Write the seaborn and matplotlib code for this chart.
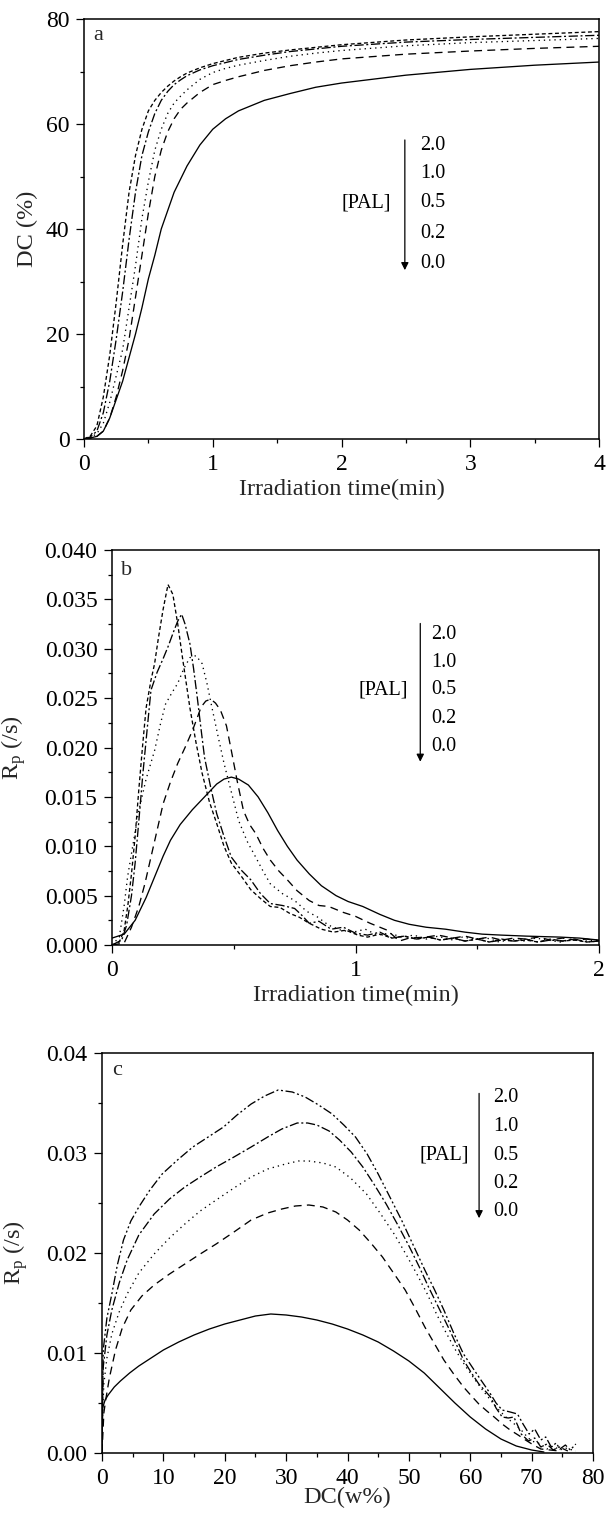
import numpy as np
import matplotlib
matplotlib.use("Agg")
import matplotlib.pyplot as plt
import seaborn as sns
from matplotlib.ticker import MultipleLocator, FormatStrFormatter

# ---------------- data ----------------
pal_levels = ["2.0", "1.0", "0.5", "0.2", "0.0"]

# Panel a: DC (%) vs irradiation time (min)
a_time = [0, 0.05, 0.1, 0.15, 0.2, 0.25, 0.3, 0.35, 0.4, 0.45, 0.5, 0.55, 0.6, 0.65, 0.7,
          0.75, 0.8, 0.9, 1.0, 1.1, 1.2, 1.4, 1.6, 1.8, 2.0, 2.5, 3.0, 3.5, 4.0]
a_dc_00 = [0, 0.2, 0.5, 1.5, 4, 7.5, 11, 15.5, 20, 25, 30.5, 35, 40, 43.5, 47,
           49.5, 52, 56, 59, 61, 62.5, 64.5, 65.8, 67, 67.8, 69.3, 70.4, 71.2, 71.8]
a_dc_02 = [0, 0.2, 0.5, 1.5, 4, 8, 13, 19, 27, 35, 43, 50, 55, 58.5, 61,
           62.8, 64, 66, 67.5, 68.3, 69.0, 70.2, 71.1, 71.8, 72.4, 73.3, 73.9, 74.4, 74.8]
a_dc_05 = [0, 0.3, 1, 3, 7, 12, 17, 25, 33, 42, 49, 55, 59, 62, 64,
           65.3, 66.5, 68.5, 69.8, 70.6, 71.2, 72.1, 72.9, 73.5, 74.0, 74.9, 75.5, 75.9, 76.3]
a_dc_10 = [0, 0.4, 1.5, 5, 11, 19, 28, 38, 47, 54, 58.5, 62, 64.5, 66.2, 67.5,
           68.4, 69.2, 70.3, 71.1, 71.7, 72.3, 73.1, 73.8, 74.3, 74.8, 75.6, 76.1, 76.5, 76.9]
a_dc_20 = [0, 0.6, 2.5, 8, 16, 26, 37, 47, 54, 59, 62.5, 64.5, 66, 67.2, 68.2,
           69.0, 69.7, 70.7, 71.5, 72.1, 72.7, 73.5, 74.1, 74.6, 75.1, 76.0, 76.6, 77.1, 77.6]

# Panel b: Rp (/s) vs irradiation time (min), pairs (t, Rp)
b_00 = np.array([(0, 0.0007), (0.05, 0.0011), (0.095, 0.0025), (0.14, 0.0048), (0.175, 0.0069),
                 (0.21, 0.0090), (0.24, 0.0106), (0.28, 0.0122), (0.33, 0.0137), (0.38, 0.0150),
                 (0.43, 0.0163), (0.46, 0.0168), (0.49, 0.0170), (0.52, 0.0168), (0.56, 0.0162),
                 (0.60, 0.0150), (0.64, 0.0134), (0.68, 0.0116), (0.72, 0.0100), (0.76, 0.0086),
                 (0.81, 0.0072), (0.86, 0.0060), (0.92, 0.0050), (0.97, 0.0044), (1.03, 0.0039),
                 (1.10, 0.0031), (1.16, 0.0025), (1.22, 0.0021), (1.29, 0.0018), (1.37, 0.0016),
                 (1.45, 0.0013), (1.52, 0.0011), (1.60, 0.0010), (1.70, 0.0009), (1.84, 0.0008),
                 (1.92, 0.0007), (2.0, 0.0005)])
b_02 = np.array([(0, 0.0), (0.05, 0.0002), (0.08, 0.0018), (0.11, 0.0039), (0.135, 0.0062),
                 (0.16, 0.0089), (0.185, 0.0116), (0.21, 0.0143), (0.24, 0.0165), (0.27, 0.0184),
                 (0.30, 0.0200), (0.33, 0.0217), (0.35, 0.0230), (0.366, 0.0241), (0.385, 0.0247),
                 (0.405, 0.0249), (0.425, 0.0245), (0.445, 0.0238), (0.47, 0.0222), (0.49, 0.0197),
                 (0.515, 0.0165), (0.54, 0.0136), (0.565, 0.0122), (0.59, 0.0113), (0.62, 0.0098),
                 (0.65, 0.0086), (0.685, 0.0075), (0.72, 0.0066), (0.76, 0.0055), (0.81, 0.0045),
                 (0.85, 0.0040), (0.89, 0.0039), (0.95, 0.0033), (1.0, 0.0029), (1.06, 0.0022),
                 (1.13, 0.0015), (1.18, 0.0004), (1.22, 0.0007), (1.29, 0.0008), (1.34, 0.0010),
                 (1.40, 0.0007), (1.45, 0.0009), (1.50, 0.0006), (1.55, 0.0008), (1.60, 0.0005),
                 (1.65, 0.0007), (1.70, 0.0006), (1.75, 0.0008), (1.80, 0.0005), (1.85, 0.0007),
                 (1.90, 0.0005), (1.95, 0.0006), (2.0, 0.0004)])
b_05 = np.array([(0, 0.0), (0.03, 0.0008), (0.05, 0.0040), (0.064, 0.0069), (0.085, 0.0100),
                 (0.11, 0.0136), (0.14, 0.0168), (0.175, 0.0197), (0.20, 0.0225), (0.22, 0.0244),
                 (0.245, 0.0255), (0.27, 0.0265), (0.295, 0.0280), (0.32, 0.0291), (0.345, 0.0293),
                 (0.37, 0.0285), (0.39, 0.0265), (0.41, 0.0241), (0.435, 0.0212), (0.46, 0.0184),
                 (0.49, 0.0155), (0.52, 0.0126), (0.555, 0.0105), (0.59, 0.0089), (0.62, 0.0075),
                 (0.65, 0.0062), (0.70, 0.0052), (0.75, 0.0045), (0.80, 0.0034), (0.84, 0.0029),
                 (0.89, 0.0020), (0.94, 0.0015), (0.99, 0.0013), (1.04, 0.0016), (1.09, 0.0010),
                 (1.14, 0.0012), (1.19, 0.0008), (1.24, 0.0010), (1.29, 0.0006), (1.34, 0.0009),
                 (1.39, 0.0005), (1.44, 0.0008), (1.49, 0.0006), (1.54, 0.0007), (1.59, 0.0003),
                 (1.64, 0.0006), (1.69, 0.0004), (1.74, 0.0007), (1.79, 0.0005), (1.84, 0.0003),
                 (1.89, 0.0006), (1.94, 0.0004), (2.0, 0.0005)])
b_10 = np.array([(0, 0.0), (0.04, 0.0005), (0.06, 0.0020), (0.08, 0.0050), (0.095, 0.0083),
                 (0.11, 0.0125), (0.127, 0.0174), (0.145, 0.0220), (0.16, 0.0258), (0.185, 0.0276),
                 (0.21, 0.0290), (0.23, 0.0302), (0.254, 0.0318), (0.27, 0.0328), (0.286, 0.0335),
                 (0.30, 0.0325), (0.32, 0.0305), (0.335, 0.0280), (0.35, 0.0251), (0.365, 0.0220),
                 (0.38, 0.0190), (0.405, 0.0160), (0.43, 0.0133), (0.46, 0.0110), (0.49, 0.0089),
                 (0.53, 0.0076), (0.57, 0.0066), (0.61, 0.0052), (0.65, 0.0042), (0.70, 0.0040),
                 (0.75, 0.0037), (0.78, 0.0030), (0.81, 0.0022), (0.85, 0.0024), (0.90, 0.0016),
                 (0.95, 0.0018), (1.0, 0.0012), (1.05, 0.0010), (1.10, 0.0013), (1.15, 0.0007),
                 (1.20, 0.0009), (1.25, 0.0006), (1.30, 0.0008), (1.35, 0.0005), (1.40, 0.0007),
                 (1.45, 0.0004), (1.50, 0.0006), (1.55, 0.0003), (1.60, 0.0005), (1.65, 0.0004),
                 (1.70, 0.0006), (1.75, 0.0003), (1.80, 0.0005), (1.85, 0.0004), (1.90, 0.0006),
                 (1.95, 0.0003), (2.0, 0.0004)])
b_20 = np.array([(0, 0.0), (0.03, 0.0003), (0.05, 0.0015), (0.065, 0.0040), (0.08, 0.0072),
                 (0.095, 0.0110), (0.11, 0.0157), (0.125, 0.0200), (0.14, 0.0240), (0.16, 0.0268),
                 (0.175, 0.0285), (0.19, 0.0310), (0.21, 0.0340), (0.23, 0.0365), (0.25, 0.0355),
                 (0.27, 0.0325), (0.29, 0.0290), (0.32, 0.0240), (0.345, 0.0205), (0.37, 0.0174),
                 (0.40, 0.0145), (0.43, 0.0123), (0.46, 0.0100), (0.49, 0.0083), (0.53, 0.0070),
                 (0.57, 0.0056), (0.61, 0.0047), (0.65, 0.0039), (0.69, 0.0038), (0.73, 0.0032),
                 (0.77, 0.0028), (0.81, 0.0022), (0.86, 0.0016), (0.91, 0.0013), (0.96, 0.0015),
                 (1.01, 0.0010), (1.05, 0.0008), (1.10, 0.0011), (1.15, 0.0007), (1.20, 0.0009),
                 (1.25, 0.0006), (1.30, 0.0008), (1.35, 0.0005), (1.40, 0.0007), (1.45, 0.0004),
                 (1.50, 0.0006), (1.55, 0.0003), (1.60, 0.0006), (1.65, 0.0004), (1.70, 0.0005),
                 (1.75, 0.0003), (1.80, 0.0006), (1.85, 0.0004), (1.90, 0.0005), (1.95, 0.0003),
                 (2.0, 0.0004)])

# Panel c: Rp (/s) vs DC (w%), pairs (DC, Rp)
c_00 = np.array([(0, 0.0), (0.1, 0.0045), (0.5, 0.0053), (1, 0.0058), (2, 0.0066), (3, 0.0072),
                 (4.5, 0.0080), (6, 0.0087), (8, 0.0095), (10, 0.0103), (12.5, 0.0111),
                 (15, 0.0118), (17.5, 0.0124), (20, 0.0129), (22.5, 0.0133), (25, 0.0137),
                 (27.5, 0.0139), (30, 0.0138), (32.5, 0.0136), (35, 0.0133), (37.5, 0.0129),
                 (40, 0.0124), (42.5, 0.0118), (45, 0.0111), (47.5, 0.0102), (50, 0.0092),
                 (52.5, 0.0080), (55, 0.0065), (57.5, 0.0050), (60, 0.0036), (62.5, 0.0024),
                 (65, 0.0014), (67.5, 0.0007), (70, 0.0003), (72, 0.0001)])
c_02 = np.array([(0, 0.0), (0.3, 0.0040), (0.6, 0.0053), (1.2, 0.0075), (2.2, 0.0103),
                 (3.3, 0.0125), (4.7, 0.0143), (6.5, 0.0157), (8.5, 0.0168), (11, 0.0179),
                 (13.5, 0.0189), (16, 0.0199), (18.6, 0.0209), (21.5, 0.0221), (24.3, 0.0233),
                 (27, 0.0240), (29.3, 0.0244), (31.5, 0.0247), (33.7, 0.0248), (36, 0.0246),
                 (38.1, 0.0241), (40, 0.0233), (41.9, 0.0223), (43.8, 0.0210), (45.7, 0.0196),
                 (47.5, 0.0180), (49.4, 0.0163), (51, 0.0145), (52.6, 0.0126), (54.2, 0.0109),
                 (55.7, 0.0093), (57.3, 0.0079), (58.9, 0.0066), (60.2, 0.0057), (61.4, 0.0049),
                 (62.7, 0.0042), (63.9, 0.0036), (65.2, 0.0029), (66.5, 0.0023), (67.8, 0.0018),
                 (69, 0.0013), (70.3, 0.0008), (71.5, 0.0004), (73, 0.0003), (74.6, 0.0002)])
c_05 = np.array([(0, 0.0), (0.1, 0.0040), (0.3, 0.0069), (0.8, 0.0095), (1.6, 0.0119),
                 (2.8, 0.0141), (4.1, 0.0159), (6, 0.0180), (8.5, 0.0199), (11, 0.0215),
                 (13.5, 0.0229), (16, 0.0242), (18.6, 0.0253), (21.5, 0.0265), (24.3, 0.0276),
                 (27, 0.0284), (29.9, 0.0289), (32, 0.0292), (33.7, 0.0292), (36, 0.0290),
                 (38.1, 0.0286), (40.5, 0.0275), (43.1, 0.0259), (45.3, 0.0240), (47.6, 0.0219),
                 (49.5, 0.0199), (51.3, 0.0179), (53, 0.0159), (54.5, 0.0139), (56, 0.0121),
                 (57.6, 0.0103), (59.2, 0.0087), (60.8, 0.0073), (62, 0.0063), (63.3, 0.0053),
                 (64.5, 0.0044), (65.8, 0.0036), (67, 0.0030), (68.3, 0.0023), (69.3, 0.0016),
                 (70.0, 0.0012), (71.5, 0.0009), (72.5, 0.0004), (73.5, 0.0007), (74.6, 0.0003),
                 (75.5, 0.0005), (77.2, 0.0002)])
c_10 = np.array([(0, 0.0), (0.1, 0.0050), (0.2, 0.0086), (0.8, 0.0118), (1.6, 0.0143),
                 (2.8, 0.0170), (4.1, 0.0193), (6, 0.0218), (8.5, 0.0239), (11, 0.0254),
                 (13.5, 0.0266), (16, 0.0276), (18.6, 0.0286), (21.5, 0.0296), (24.3, 0.0306),
                 (27, 0.0316), (29.3, 0.0324), (31.8, 0.0330), (33.5, 0.0330), (35, 0.0328),
                 (37, 0.0322), (38.7, 0.0313), (40.6, 0.0301), (42.5, 0.0286), (44.4, 0.0268),
                 (46.3, 0.0249), (48.2, 0.0228), (50.1, 0.0206), (51.7, 0.0186), (53.2, 0.0166),
                 (54.8, 0.0146), (56.4, 0.0126), (57.7, 0.0109), (58.9, 0.0093), (60.2, 0.0080),
                 (61.4, 0.0069), (62.3, 0.0063), (63.3, 0.0056), (64.2, 0.0045), (65.2, 0.0036),
                 (66.2, 0.0035), (67.1, 0.0036), (67.7, 0.0028), (68.3, 0.0019), (69.5, 0.0012),
                 (70.5, 0.0015), (71.5, 0.0006), (72.5, 0.0009), (73.5, 0.0003), (74.5, 0.0006),
                 (75.9, 0.0002)])
c_20 = np.array([(0, 0.0), (0.1, 0.0060), (0.2, 0.0103), (0.8, 0.0135), (1.6, 0.0159),
                 (2.5, 0.0188), (3.5, 0.0213), (4.7, 0.0232), (6, 0.0246), (7.8, 0.0263),
                 (9.8, 0.0279), (12.3, 0.0293), (14.8, 0.0306), (17.3, 0.0316), (19.8, 0.0326),
                 (22, 0.0338), (24.3, 0.0349), (26.5, 0.0357), (28.7, 0.0363), (31, 0.0361),
                 (33.1, 0.0356), (35.3, 0.0348), (37.5, 0.0339), (39.4, 0.0328), (41.3, 0.0316),
                 (43.2, 0.0299), (45, 0.0279), (46.9, 0.0256), (48.8, 0.0233), (50.7, 0.0208),
                 (52.6, 0.0183), (54.2, 0.0163), (55.7, 0.0143), (57.3, 0.0120), (58.9, 0.0099),
                 (60.2, 0.0087), (61.4, 0.0076), (62.3, 0.0068), (63.3, 0.0059), (64.2, 0.0050),
                 (65.2, 0.0043), (66.5, 0.0041), (67.7, 0.0039), (68.6, 0.0029), (69.6, 0.0019),
                 (70.5, 0.0024), (71.5, 0.0013), (72.3, 0.0016), (73.2, 0.0006), (74.0, 0.0010),
                 (74.6, 0.0004), (75.5, 0.0008), (76.3, 0.0003), (77.2, 0.0009)])

# ---------------- style ----------------
sns.set_theme(style="ticks")
plt.rcParams['font.family'] = ['Liberation Serif', 'DejaVu Serif']
plt.rcParams['mathtext.fontset'] = 'custom'
plt.rcParams['mathtext.rm'] = 'Liberation Serif'
plt.rcParams['mathtext.it'] = 'Liberation Serif:italic'

TICK_FS = 17
LAB_FS = 17.5
ANN_FS = 14.5
LW = 0.95

ls_ab = {"0.0": "-", "0.2": (0, (6, 4)), "0.5": (0, (1, 3)),
         "1.0": (0, (7, 2, 1.5, 2)), "2.0": (0, (3, 2))}
ls_c = {"0.0": "-", "0.2": (0, (6, 4)), "0.5": (0, (1, 3)),
        "1.0": (0, (7, 2, 1.5, 2)), "2.0": (0, (7, 2, 1.5, 2, 1.5, 2))}

W, H = 607, 1513
fig = plt.figure(figsize=(W / 100, H / 100), dpi=100)


def make_ax(l, t, r, b):
    return fig.add_axes([l / W, 1 - b / H, (r - l) / W, (b - t) / H])


ax_a = make_ax(84, 19, 599, 439)
ax_b = make_ax(112, 550, 599, 945)
ax_c = make_ax(102, 1053, 593, 1453)


def style_ax(ax):
    for s in ax.spines.values():
        s.set_color("black")
        s.set_linewidth(1.1)
        s.set_visible(True)
    ax.tick_params(which="both", direction="out", top=False, right=False,
                   colors="black", labelsize=TICK_FS, width=0.9, pad=5)
    ax.tick_params(which="major", length=5.5)
    ax.tick_params(which="minor", length=3)
    ax.grid(False)
    ax.set_facecolor("white")


def pal_note(ax, ax_x, y_top, y_bot, lab_x, lab_ys, pal_x, pal_y):
    ax.annotate("", xy=(ax_x, y_bot), xytext=(ax_x, y_top), xycoords="axes fraction",
                arrowprops=dict(arrowstyle="-|>", color="black", lw=0.9,
                                mutation_scale=11, shrinkA=0, shrinkB=0))
    for lab, yy in zip(pal_levels, lab_ys):
        ax.text(lab_x, yy, lab, transform=ax.transAxes, fontsize=ANN_FS,
                ha="left", va="center", color="black")
    ax.text(pal_x, pal_y, "[PAL]", transform=ax.transAxes, fontsize=ANN_FS,
            ha="right", va="center", color="black")


# ---------------- panel a ----------------
a_series = {"0.0": a_dc_00, "0.2": a_dc_02, "0.5": a_dc_05, "1.0": a_dc_10, "2.0": a_dc_20}
for k, v in a_series.items():
    sns.lineplot(x=a_time, y=v, ax=ax_a, color="black", linewidth=LW,
                 linestyle=ls_ab[k], sort=False, estimator=None)
ax_a.set_xlim(0, 4)
ax_a.set_ylim(0, 80)
ax_a.xaxis.set_major_locator(MultipleLocator(1))
ax_a.xaxis.set_minor_locator(MultipleLocator(0.5))
ax_a.yaxis.set_major_locator(MultipleLocator(20))
ax_a.yaxis.set_minor_locator(MultipleLocator(10))
style_ax(ax_a)
ax_a.set_xlabel("Irradiation time(min)", fontsize=LAB_FS)
ax_a.set_ylabel("DC (%)", fontsize=LAB_FS)
ax_a.xaxis.set_label_coords(0.5, -0.095)
ax_a.yaxis.set_label_coords(-0.09, 0.5)
ax_a.text(0.017, 0.96, "a", transform=ax_a.transAxes, fontsize=16, ha="left", va="center")
pal_note(ax_a, 0.623, 0.712, 0.402, 0.652, [0.70, 0.633, 0.562, 0.490, 0.419], 0.596, 0.562)

# ---------------- panel b ----------------
b_series = {"0.0": b_00, "0.2": b_02, "0.5": b_05, "1.0": b_10, "2.0": b_20}
for k, v in b_series.items():
    sns.lineplot(x=v[:, 0], y=v[:, 1], ax=ax_b, color="black", linewidth=LW,
                 linestyle=ls_ab[k], sort=False, estimator=None)
ax_b.set_xlim(0, 2)
ax_b.set_ylim(0, 0.04)
ax_b.xaxis.set_major_locator(MultipleLocator(1))
ax_b.xaxis.set_minor_locator(MultipleLocator(0.5))
ax_b.yaxis.set_major_locator(MultipleLocator(0.005))
ax_b.yaxis.set_minor_locator(MultipleLocator(0.0025))
ax_b.yaxis.set_major_formatter(FormatStrFormatter("%.3f"))
style_ax(ax_b)
ax_b.set_xlabel("Irradiation time(min)", fontsize=LAB_FS)
ax_b.set_ylabel(r"R$_{\mathrm{p}}$ (/s)", fontsize=LAB_FS)
ax_b.xaxis.set_label_coords(0.5, -0.10)
ax_b.yaxis.set_label_coords(-0.172, 0.5)
ax_b.text(0.018, 0.949, "b", transform=ax_b.transAxes, fontsize=16, ha="left", va="center")
pal_note(ax_b, 0.633, 0.814, 0.464, 0.655, [0.787, 0.716, 0.646, 0.574, 0.502], 0.608, 0.646)

# ---------------- panel c ----------------
c_series = {"0.0": c_00, "0.2": c_02, "0.5": c_05, "1.0": c_10, "2.0": c_20}
for k, v in c_series.items():
    sns.lineplot(x=v[:, 0], y=v[:, 1], ax=ax_c, color="black", linewidth=LW,
                 linestyle=ls_c[k], sort=False, estimator=None)
ax_c.set_xlim(0, 80)
ax_c.set_ylim(0, 0.04)
ax_c.xaxis.set_major_locator(MultipleLocator(10))
ax_c.xaxis.set_minor_locator(MultipleLocator(5))
ax_c.yaxis.set_major_locator(MultipleLocator(0.01))
ax_c.yaxis.set_minor_locator(MultipleLocator(0.005))
ax_c.yaxis.set_major_formatter(FormatStrFormatter("%.2f"))
style_ax(ax_c)
ax_c.set_xlabel("DC(w%)", fontsize=LAB_FS)
ax_c.set_ylabel(r"R$_{\mathrm{p}}$ (/s)", fontsize=LAB_FS)
ax_c.xaxis.set_label_coords(0.5, -0.085)
ax_c.yaxis.set_label_coords(-0.147, 0.5)
ax_c.text(0.02, 0.957, "c", transform=ax_c.transAxes, fontsize=16, ha="left", va="center")
pal_note(ax_c, 0.768, 0.899, 0.587, 0.797, [0.888, 0.816, 0.745, 0.674, 0.603], 0.748, 0.745)

fig.savefig("out.png", dpi=100, facecolor="white")
